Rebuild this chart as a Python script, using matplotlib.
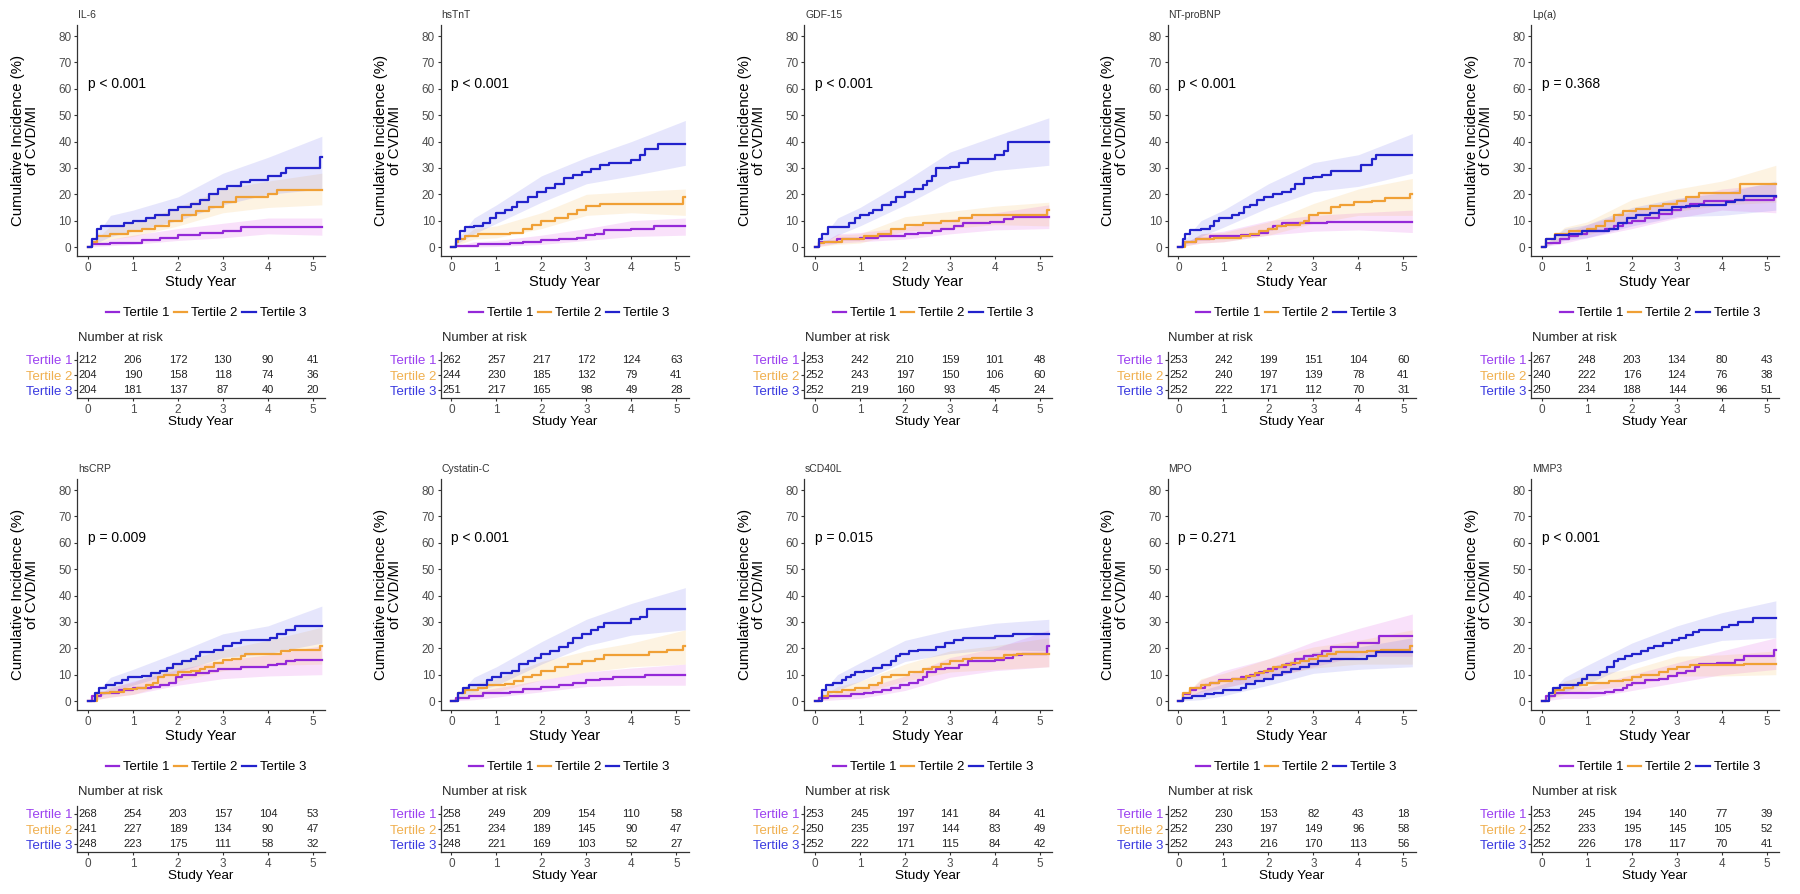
import matplotlib
matplotlib.use("Agg")
import matplotlib.pyplot as plt

plt.rcParams['font.family'] = ['Liberation Sans', 'DejaVu Sans']

# ---- data ----
markers = ["IL-6", "hsTnT", "GDF-15", "NT-proBNP", "Lp(a)",
           "hsCRP", "Cystatin-C", "sCD40L", "MPO", "MMP3"]
p_values = ["p < 0.001", "p < 0.001", "p < 0.001", "p < 0.001", "p = 0.368",
            "p = 0.009", "p < 0.001", "p = 0.015", "p = 0.271", "p < 0.001"]
tertiles = ["Tertile 1", "Tertile 2", "Tertile 3"]
years = [0, 1, 2, 3, 4, 5]

# step curves: (study year, cumulative incidence %)
IL6_T1 = [(0,0),(0.1,1),(0.5,1.5),(1.2,2.5),(1.6,3.5),(2.0,4.5),(2.5,5.5),(3.0,6),(3.4,7.5),(5.2,7.5)]
IL6_T2 = [(0,0),(0.1,2),(0.2,4),(0.5,5),(0.9,6),(1.2,7),(1.5,8),(1.8,10),(2.1,12),(2.4,13.5),(2.7,15),(3.0,17),(3.3,19),(4.0,20),(4.2,21.5),(5.2,21.5)]
IL6_T3 = [(0,0),(0.1,3),(0.2,7),(0.3,8),(0.8,9),(1.0,10),(1.3,11),(1.5,12),(1.8,14),(2.0,15),(2.3,16.5),(2.5,18),(2.7,20),(2.9,22),(3.1,23),(3.4,24.5),(3.6,25.5),(4.0,27),(4.3,28),(4.4,30),(5.15,34),(5.2,34)]

TNT_T1 = [(0,0),(0.1,0.5),(0.6,1),(1.3,1.5),(1.6,2),(2.0,2.5),(2.4,3),(2.8,3.5),(3.0,4.5),(3.2,5),(3.4,6.5),(4.0,7),(4.5,8),(5.2,8)]
TNT_T2 = [(0,0),(0.1,2),(0.15,3),(0.3,4),(0.6,5),(1.3,5.5),(1.6,7),(1.8,8.5),(2.0,10),(2.3,11),(2.6,12.5),(2.8,14),(3.0,15.5),(3.3,16.5),(5.15,19),(5.2,19)]
TNT_T3 = [(0,0),(0.1,3),(0.2,6),(0.3,7.5),(0.5,8),(0.7,9),(0.85,11),(1.0,13),(1.2,14),(1.35,15),(1.45,17),(1.7,19),(1.9,21),(2.1,22.5),(2.3,24),(2.5,26),(2.7,27.5),(2.9,28.5),(3.1,29.5),(3.3,31),(3.5,32),(4.0,33),(4.2,35),(4.3,37),(4.6,39),(5.2,39)]

GDF_T1 = [(0,0),(0.1,2),(0.5,3),(1.0,3.5),(1.4,4),(2.0,5),(2.3,5.5),(2.6,6),(2.8,7),(3.1,8),(3.3,9),(3.9,9.5),(4.2,10.5),(4.4,11.5),(5.2,11.5)]
GDF_T2 = [(0,0),(0.1,1.5),(0.2,2),(0.6,3),(1.1,4),(1.4,5),(1.7,7),(2.0,8.5),(2.4,9),(2.8,10),(3.2,11),(3.5,12),(5.15,14),(5.2,14)]
GDF_T3 = [(0,0),(0.1,3),(0.15,5),(0.3,7.5),(0.75,9),(0.9,11),(1.0,12),(1.2,13),(1.3,14),(1.5,16),(1.7,17),(1.8,19),(2.0,21),(2.2,22),(2.4,23.5),(2.5,25),(2.6,27),(2.7,30),(3.0,30.5),(3.2,32),(3.4,33.5),(4.0,35),(4.2,36.5),(4.3,40),(5.2,40)]

BNP_T1 = [(0,0),(0.1,2),(0.4,3),(0.7,4),(1.4,4.5),(1.8,5.5),(2.0,7),(2.1,8),(2.3,9),(3.3,9.5),(5.2,9.5)]
BNP_T2 = [(0,0),(0.15,2),(0.4,3),(0.8,3.5),(1.4,4),(1.6,5),(1.8,6),(2.0,7),(2.2,8),(2.4,8.5),(2.7,9),(2.8,10),(2.9,12),(3.1,13),(3.4,15),(3.6,16),(3.9,17),(4.3,17.5),(4.6,18.5),(5.15,20),(5.2,20)]
BNP_T3 = [(0,0),(0.1,3),(0.15,5),(0.25,6.5),(0.5,7),(0.7,8),(0.8,10),(0.9,11),(1.2,12),(1.35,13),(1.45,15),(1.6,16),(1.75,18),(1.9,19),(2.1,20),(2.3,21),(2.5,22),(2.6,24),(2.8,26),(3.0,26.5),(3.2,27.5),(3.4,29),(4.05,31),(4.3,33.5),(4.4,35),(5.2,35)]

LPA_T1 = [(0,0),(0.1,1.5),(0.4,3),(0.6,4),(0.8,5),(1.0,6),(1.4,7),(1.6,8),(1.8,9),(2.0,10),(2.3,11),(2.6,12.5),(2.9,14),(3.1,15),(3.3,16.5),(3.6,17.5),(4.3,18),(5.15,19),(5.2,19)]
LPA_T2 = [(0,0),(0.1,3),(0.3,5),(0.6,6),(1.0,7),(1.2,8),(1.4,10),(1.6,12),(1.8,13.5),(2.1,14.5),(2.4,15.5),(2.7,16.5),(3.0,17.5),(3.2,19),(3.5,20.5),(4.4,24),(5.2,24)]
LPA_T3 = [(0,0),(0.1,3),(0.3,4.5),(0.6,5),(0.9,6),(1.5,7),(1.7,9),(1.9,11),(2.1,12),(2.4,13),(2.6,14),(2.9,15),(3.2,15.5),(3.5,16),(4.1,17),(4.3,18),(4.5,19.5),(5.2,19.5)]

CRP_T1 = [(0,0),(0.1,2),(0.3,3),(0.7,4),(1.0,5),(1.4,5.5),(1.6,6),(1.8,7),(1.95,9),(2.1,10),(2.4,10.5),(2.7,11.5),(2.9,12),(3.4,13),(4.0,13.5),(4.2,14),(4.4,15),(4.6,15.5),(5.2,15.5)]
CRP_T2 = [(0,0),(0.2,3),(0.5,3.5),(0.8,4.5),(1.1,5),(1.3,6),(1.45,7),(1.55,9),(1.7,10),(2.0,11),(2.3,11.5),(2.5,12),(2.6,13),(2.8,14.5),(3.0,15.5),(3.2,16),(3.4,17),(3.5,18),(4.3,19),(4.5,19.5),(5.15,21),(5.2,21)]
CRP_T3 = [(0,0),(0.15,3),(0.25,5),(0.4,6),(0.6,7),(0.75,8),(0.9,9),(1.2,9.5),(1.4,10.5),(1.6,11.5),(1.75,12.5),(1.9,14),(2.1,15),(2.3,16),(2.4,17),(2.5,18.5),(2.8,19.5),(3.0,21),(3.2,22),(3.4,23),(4.05,24),(4.2,25.5),(4.4,27),(4.6,28.5),(5.2,28.5)]

CYS_T1 = [(0,0),(0.1,1),(0.4,2),(0.7,3),(1.3,3.5),(1.6,4.5),(2.0,5.5),(2.4,6),(2.7,7),(3.0,8),(3.3,8.5),(3.6,9),(4.3,10),(5.2,10)]
CYS_T2 = [(0,0),(0.15,3),(0.3,4),(0.6,5),(0.8,6),(1.2,6.5),(1.4,7.5),(1.6,9),(1.8,10),(2.0,11.5),(2.3,13),(2.6,14),(2.9,15),(3.2,16),(3.4,17.5),(4.4,18.5),(4.8,19.5),(5.15,21),(5.2,21)]
CYS_T3 = [(0,0),(0.15,3),(0.25,5),(0.4,6),(0.8,8),(0.9,9),(1.1,10.5),(1.35,11.5),(1.5,14),(1.7,15),(1.85,16.5),(2.0,18),(2.2,19),(2.4,20.5),(2.6,22),(2.7,24),(2.9,25.5),(3.1,27),(3.25,28),(3.4,29.5),(4.0,31),(4.2,32),(4.35,35),(5.2,35)]

CD40_T1 = [(0,0),(0.1,1),(0.3,2),(0.8,2.5),(1.1,3),(1.3,3.5),(1.5,4),(1.7,5),(1.9,6),(2.1,7),(2.3,8),(2.4,9),(2.5,11),(2.7,12),(2.9,12.5),(3.2,13.5),(3.4,15),(4.0,15.5),(4.2,16.5),(4.4,17.5),(4.6,18),(5.15,21),(5.2,21)]
CD40_T2 = [(0,0),(0.15,2),(0.3,3.5),(0.6,4),(0.9,5),(1.2,6),(1.4,7),(1.5,9),(1.7,10),(2.1,11),(2.4,12),(2.6,13),(2.8,14),(3.0,15),(3.3,16),(3.5,16.5),(4.2,17.5),(4.5,18),(5.2,18)]
CD40_T3 = [(0,0),(0.15,4),(0.25,6),(0.4,7),(0.6,8),(0.7,9),(0.8,10),(0.9,11),(1.1,11.5),(1.3,12.5),(1.5,13.5),(1.7,15),(1.8,17),(1.9,18),(2.1,19),(2.3,19.5),(2.7,20.5),(2.9,22),(3.1,23),(3.3,24),(4.0,24.5),(4.4,25.5),(5.2,25.5)]

MPO_T1 = [(0,0),(0.1,2.5),(0.25,4),(0.4,5),(0.6,6),(0.7,7),(0.9,8),(1.2,8.5),(1.4,9),(1.6,10),(1.8,11),(2.0,12),(2.2,13),(2.4,14),(2.6,16),(2.8,17),(3.0,17.5),(3.2,19),(3.4,20.5),(4.0,22),(4.45,24.5),(5.2,24.5)]
MPO_T2 = [(0,0),(0.1,3),(0.25,5),(0.5,6),(0.7,7),(0.9,7.5),(1.2,8.5),(1.5,9.5),(1.7,10.5),(1.9,11.5),(2.1,13),(2.3,13.5),(2.5,14.5),(2.7,15),(2.9,16),(3.1,17),(3.3,18),(3.5,18.5),(4.2,19),(4.5,19.5),(5.15,21),(5.2,21)]
MPO_T3 = [(0,0),(0.1,1),(0.3,2),(0.6,2.5),(0.8,3),(1.0,4),(1.4,5),(1.5,6.5),(1.7,7.5),(1.9,8.5),(2.1,10),(2.3,11),(2.5,12),(2.7,13),(2.9,14),(3.1,15),(3.4,16),(4.2,17),(4.4,18.5),(5.2,18.5)]

MMP_T1 = [(0,0),(0.1,2),(0.3,3),(1.4,3.5),(1.6,4),(1.8,5),(1.9,6),(2.0,7),(2.3,8),(2.6,8.5),(2.8,9.5),(3.0,10.5),(3.2,11.5),(3.4,13),(3.5,14),(3.9,14.5),(4.3,15.5),(4.5,17),(5.15,19.5),(5.2,19.5)]
MMP_T2 = [(0,0),(0.15,3),(0.3,4),(0.5,5),(0.7,6),(1.0,7),(1.5,7.5),(1.8,8),(2.0,9),(2.2,10),(2.6,11),(2.8,12),(3.0,13),(3.3,13.5),(4.5,14),(5.2,14)]
MMP_T3 = [(0,0),(0.15,3),(0.25,5),(0.4,6),(0.8,7),(0.9,8.5),(1.0,10),(1.3,11),(1.45,13),(1.6,15),(1.7,16),(1.85,17),(2.0,18),(2.2,19),(2.35,20),(2.5,21),(2.7,22),(2.9,23),(3.05,24),(3.2,25),(3.35,26),(3.5,27),(4.0,28),(4.15,29),(4.35,30),(4.7,31.5),(5.2,31.5)]

# confidence bands (lower, upper) at these years
BAND_T = [0, 0.5, 1, 2, 3, 4, 5.2]
IL6_LO = [[0,0.5,1,2.5,3.5,5,4.5], [0,3,4,8,13,15,16], [0,4,6,10,16,20,22]]
IL6_HI = [[0,3,4.5,7,9,11,11], [0,8,9,15,22,25,28], [0,12,14,19,28,34,42]]
TNT_LO = [[0,0,0.2,1,2.5,4,4.5], [0,3,3.5,7,12,13,12], [0,5,9,17,24,27,31]]
TNT_HI = [[0,2,2.5,4.5,7,10,11], [0,7,8,13,20,21,22], [0,11,16,27,34,40,48]]
GDF_LO = [[0,1.5,2,3,5,6.5,7], [0,1,1.5,6,7,8.5,8], [0,4.5,8,16,25,29,31]]
GDF_HI = [[0,5,5.5,7.5,10.5,13,16], [0,4.5,5,11.5,13.5,15.5,17], [0,11,15,25,36,42,49]]
BNP_LO = [[0,1.5,2,4.5,6,6.5,5.5], [0,1.5,2,4.5,9,12,12], [0,4,7.5,15,21,23,28]]
BNP_HI = [[0,5,6,10,12,13,14], [0,5,5.5,9.5,16.5,22,26], [0,10,14,24,32,35,43]]
LPA_LO = [[0,1.5,3.5,7,11,14,13], [0,3,4.5,10,13.5,16,17], [0,2.5,3.5,8,11.5,12,14]]
LPA_HI = [[0,5,8.5,13.5,18,22,24], [0,7.5,9.5,18,22,25,31], [0,7,8.5,15,18.5,20.5,25]]
CRP_LO = [[0,1.5,2.5,6,8.5,9.5,10], [0,1.5,2.5,7.5,11.5,13.5,14], [0,3.5,6,11,16.5,18,22]]
CRP_HI = [[0,5,7.5,12,15.5,17.5,21], [0,5.5,7,14.5,19.5,23,28], [0,9,12,18.5,25.5,28.5,36]]
CYS_LO = [[0,0.5,1.5,3.5,5.5,6,6], [0,2,3.5,8,11,13,14], [0,3.5,6,14,21,25,27]]
CYS_HI = [[0,3.5,5,8,11,12.5,14], [0,6.5,8.5,15,19,22,27], [0,9,13,22.5,31,37,43]]
CD40_LO = [[0,0.5,1,4,9,11.5,13], [0,1.5,3,7.5,11,12,13], [0,4,7.5,15,18,19.5,19]]
CD40_HI = [[0,3.5,4.5,9.5,16.5,20,27], [0,5.5,7.5,14,19,21,24], [0,10,14.5,23,27,29.5,31]]
MPO_LO = [[0,2.5,5,8.5,13,17,17], [0,3.5,5,9,12.5,14,14], [0,0.5,2,6,10.5,12,13]]
MPO_HI = [[0,8,11.5,16,22.5,27.5,33], [0,8.5,10.5,16,20.5,23,27], [0,4,6.5,12.5,18.5,20.5,24]]
MMP_LO = [[0,1,1,4,7,10,12], [0,2.5,4,6,9.5,9.5,10], [0,3.5,6.5,14,19,23,24]]
MMP_HI = [[0,5,5.5,10,14.5,19,24], [0,7.5,10,12,17,17.5,19], [0,9,13.5,22,28.5,33.5,38]]

# number at risk, rows = tertile 1..3, columns = years 0..5
IL6_RISK = [[212,206,172,130,90,41], [204,190,158,118,74,36], [204,181,137,87,40,20]]
TNT_RISK = [[262,257,217,172,124,63], [244,230,185,132,79,41], [251,217,165,98,49,28]]
GDF_RISK = [[253,242,210,159,101,48], [252,243,197,150,106,60], [252,219,160,93,45,24]]
BNP_RISK = [[253,242,199,151,104,60], [252,240,197,139,78,41], [252,222,171,112,70,31]]
LPA_RISK = [[267,248,203,134,80,43], [240,222,176,124,76,38], [250,234,188,144,96,51]]
CRP_RISK = [[268,254,203,157,104,53], [241,227,189,134,90,47], [248,223,175,111,58,32]]
CYS_RISK = [[258,249,209,154,110,58], [251,234,189,145,90,47], [248,221,169,103,52,27]]
CD40_RISK = [[253,245,197,141,84,41], [250,235,197,144,83,49], [252,222,171,115,84,42]]
MPO_RISK = [[252,230,153,82,43,18], [252,230,197,149,96,58], [252,243,216,170,113,56]]
MMP_RISK = [[253,245,194,140,77,39], [252,233,195,145,105,52], [252,226,178,117,70,41]]

curves = [[IL6_T1, IL6_T2, IL6_T3], [TNT_T1, TNT_T2, TNT_T3], [GDF_T1, GDF_T2, GDF_T3],
          [BNP_T1, BNP_T2, BNP_T3], [LPA_T1, LPA_T2, LPA_T3], [CRP_T1, CRP_T2, CRP_T3],
          [CYS_T1, CYS_T2, CYS_T3], [CD40_T1, CD40_T2, CD40_T3], [MPO_T1, MPO_T2, MPO_T3],
          [MMP_T1, MMP_T2, MMP_T3]]
band_lo = [IL6_LO, TNT_LO, GDF_LO, BNP_LO, LPA_LO, CRP_LO, CYS_LO, CD40_LO, MPO_LO, MMP_LO]
band_hi = [IL6_HI, TNT_HI, GDF_HI, BNP_HI, LPA_HI, CRP_HI, CYS_HI, CD40_HI, MPO_HI, MMP_HI]
risk = [IL6_RISK, TNT_RISK, GDF_RISK, BNP_RISK, LPA_RISK, CRP_RISK, CYS_RISK, CD40_RISK, MPO_RISK, MMP_RISK]

line_colors = ['#9428D8', '#F0A035', '#2222CC']
band_colors = ['#D838E0', '#F7B040', '#5A5AF0']
label_colors = ['#9B40F0', '#F0B050', '#3A3AE0']

W, H = 1800, 894
fig = plt.figure(figsize=(18, 8.94), dpi=100)


def px_axes(left, top, right, bottom):
    return fig.add_axes([left / W, 1 - bottom / H, (right - left) / W, (bottom - top) / H])


for i, name in enumerate(markers):
    col, row = i % 5, i // 5
    x0 = 77 + 363.5 * col
    x1 = x0 + 248
    dy = 454 * row

    # --- cumulative incidence plot ---
    ax = px_axes(x0, 25 + dy, x1, 256 + dy)
    for k in range(3):
        ax.fill_between(BAND_T, band_lo[i][k], band_hi[i][k], color=band_colors[k],
                        alpha=0.15, lw=0)
    for k in range(3):
        t = [p[0] for p in curves[i][k]]
        v = [p[1] for p in curves[i][k]]
        ax.step(t, v, where='post', color=line_colors[k], lw=1.6, label=tertiles[k])
    ax.set_xlim(-0.244, 5.27)
    ax.set_ylim(-3.4, 84.2)
    ax.set_xticks(years)
    ax.set_yticks(range(0, 81, 10))
    for s in ['top', 'right']:
        ax.spines[s].set_visible(False)
    for s in ['left', 'bottom']:
        ax.spines[s].set_color('#333333')
        ax.spines[s].set_linewidth(0.9)
    ax.tick_params(length=2.5, width=0.8, color='#333333', labelsize=8.5,
                   labelcolor='#4D4D4D', pad=1.5)
    ax.set_xlabel("Study Year", fontsize=10.5, labelpad=1)
    ax.text(-0.21, 0.5, "Cumulative Incidence (%)\nof CVD/MI", transform=ax.transAxes,
            rotation=90, ha='center', va='center', fontsize=10.8, linespacing=1.0)
    ax.text(0, 62, p_values[i], ha='left', va='center', fontsize=10)
    fig.text((x0 + 1) / W, 1 - (15 + dy) / H, name, ha='left', va='center',
             fontsize=7.5, color='#333333')
    ax.legend(loc='center', bbox_to_anchor=(0.52, -0.247), ncol=3, frameon=False,
              fontsize=9.5, handlelength=1.0, handletextpad=0.3, columnspacing=0.35)

    # --- number at risk table ---
    at = px_axes(x0, 352 + dy, x1, 398 + dy)
    for k in range(3):
        for j, n in enumerate(risk[i][k]):
            at.text(years[j], 3 - k, str(n), ha='center', va='center', fontsize=8,
                    color='#222222')
    at.set_xlim(-0.244, 5.27)
    at.set_ylim(0.467, 3.533)
    at.set_xticks(years)
    at.set_yticks([3, 2, 1])
    at.set_yticklabels(tertiles, fontsize=9.5)
    for lab, c in zip(at.get_yticklabels(), label_colors):
        lab.set_color(c)
    for s in ['top', 'right']:
        at.spines[s].set_visible(False)
    for s in ['left', 'bottom']:
        at.spines[s].set_color('#333333')
        at.spines[s].set_linewidth(0.9)
    at.tick_params(axis='x', length=2.5, width=0.8, color='#333333', labelsize=8.5,
                   labelcolor='#4D4D4D', pad=1.5)
    at.tick_params(axis='y', length=2, width=0.8, color='#333333', pad=1)
    at.set_xlabel("Study Year", fontsize=9.7, labelpad=0)
    fig.text((x0 + 1) / W, 1 - (338 + dy) / H, "Number at risk", ha='left', va='center',
             fontsize=9.4, color='#222222')

fig.savefig("out.png", dpi=100, facecolor='white')
